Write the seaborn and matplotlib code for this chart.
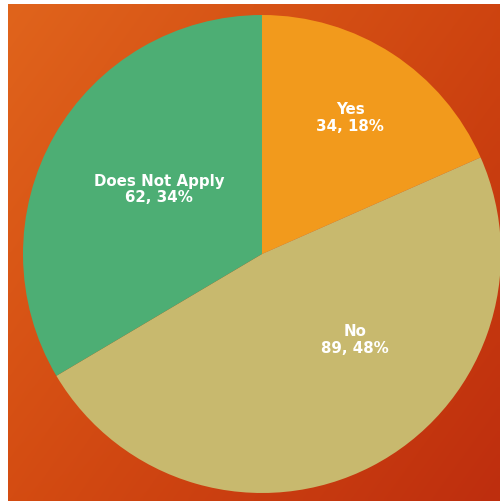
import numpy as np
import matplotlib
matplotlib.use("Agg")
import matplotlib.pyplot as plt
import seaborn as sns

sns.set_theme(style="white")
plt.rcParams['font.family'] = ['DejaVu Sans']

categories = ["Yes", "No", "Does Not Apply"]
counts = [34, 89, 62]
percent_labels = ["18%", "48%", "34%"]
colors = ["#F29A1C", "#C8B96E", "#4DAE74"]

fig = plt.figure(figsize=(5.0, 5.01), dpi=100, facecolor="white")

# gradient background
bg = fig.add_axes([8/500, 0, 492/500, 497/501])
c_tl = np.array([0xE0, 0x64, 0x1C]) / 255
c_tr = np.array([0xCE, 0x44, 0x10]) / 255
c_bl = np.array([0xD4, 0x4C, 0x12]) / 255
c_br = np.array([0xBE, 0x2E, 0x0E]) / 255
h, w = 100, 100
yy, xx = np.mgrid[0:1:h*1j, 0:1:w*1j]
img = (c_tl[None, None, :] * ((1-xx)*(1-yy))[..., None] + c_tr[None, None, :] * (xx*(1-yy))[..., None]
       + c_bl[None, None, :] * ((1-xx)*yy)[..., None] + c_br[None, None, :] * (xx*yy)[..., None])
bg.imshow(img, aspect="auto", extent=[0, 1, 0, 1], interpolation="bilinear")
bg.set_axis_off()

cx, cy, r = 262, 501-254, 239
ax = fig.add_axes([(cx-r)/500, (cy-r)/501, 2*r/500, 2*r/501])
ax.patch.set_alpha(0)
wedges, _ = ax.pie(counts, colors=colors, startangle=90, counterclock=False,
                   radius=1.0, wedgeprops=dict(linewidth=0))
ax.set_xlim(-1, 1)
ax.set_ylim(-1, 1)
ax.set_aspect("auto")
ax.set_axis_off()

label_pos = [(0.37, 0.57), (0.39, -0.36), (-0.43, 0.27)]
for cat, n, p, (x, y) in zip(categories, counts, percent_labels, label_pos):
    ax.text(x, y, f"{cat}\n{n}, {p}", ha="center", va="center", color="white",
            fontsize=10.8, fontweight="bold", linespacing=1.15)

fig.savefig("out.png", dpi=100, facecolor="white")
